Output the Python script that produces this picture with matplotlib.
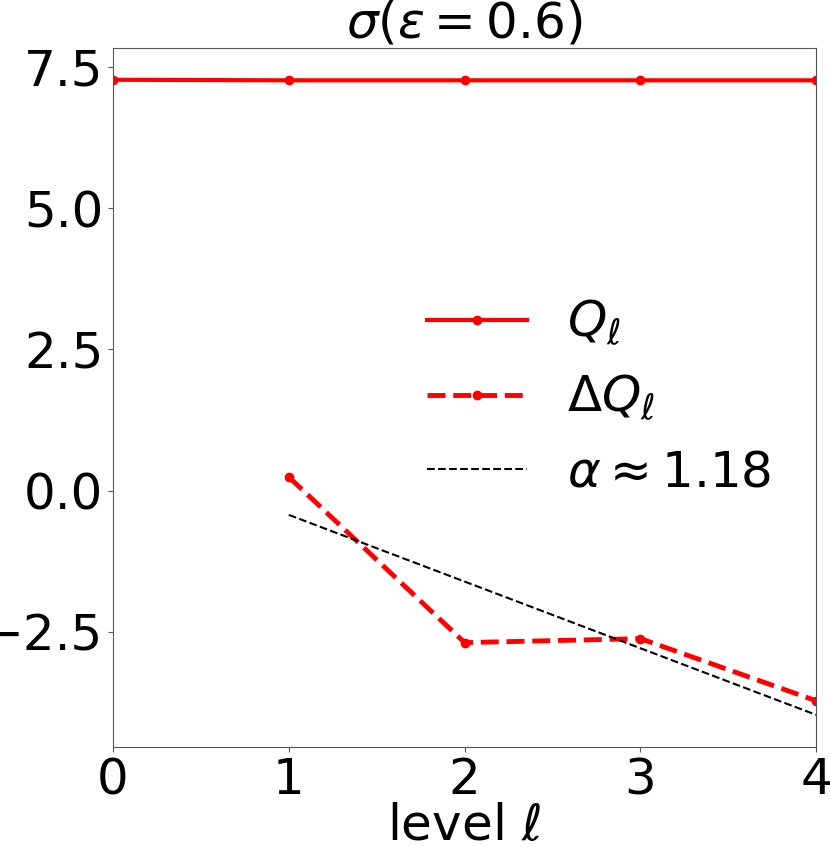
import numpy as np
import matplotlib
matplotlib.use('Agg')
import matplotlib.pyplot as plt

# values (log2 scale)
levels_q = [0, 1, 2, 3, 4]
q_vals = [7.27, 7.26, 7.26, 7.26, 7.26]

levels_dq = [1, 2, 3, 4]
dq_vals = [0.24, -2.69, -2.62, -3.72]

alpha = 1.18
fit_levels = [1, 4]
fit_start = -0.43

plt.rcParams['axes.edgecolor'] = '#555555'
plt.rcParams['xtick.color'] = '#555555'
plt.rcParams['ytick.color'] = '#555555'
plt.rcParams['xtick.labelcolor'] = 'black'
plt.rcParams['ytick.labelcolor'] = 'black'

fig = plt.figure(figsize=(8.3, 8.47), dpi=100)
ax = fig.add_axes([113 / 830, 100.3 / 847, 703.3 / 830, 698.7 / 847])

# Q_l and Delta Q_l
ax.plot(levels_q, q_vals, 'r-', marker='.', markersize=12, linewidth=3, label=r'$Q_\ell$')
ax.plot(levels_dq, dq_vals, 'r--', marker='.', markersize=12, linewidth=3.5, label=r'$\Delta Q_\ell$')

# fitted decay rate
fit_x = np.array(fit_levels)
fit_y = fit_start - alpha * (fit_x - fit_x[0])
ax.plot(fit_x, fit_y, 'k--', linewidth=1.5, label=r'$\alpha \approx %.2f$' % alpha)

ax.set_xlim(0, 4)
ax.set_xticks([0, 1, 2, 3, 4])
ax.set_yticks([-2.5, 0.0, 2.5, 5.0, 7.5])
ax.tick_params(labelsize=36)
ax.set_xlabel(r'level $\ell$', fontsize=36, labelpad=-2)
ax.set_title(r'$\sigma(\epsilon = 0.6)$', fontsize=36, pad=2)
ax.legend(loc='center right', fontsize=36, frameon=False)

plt.savefig('out.png', dpi=100)
